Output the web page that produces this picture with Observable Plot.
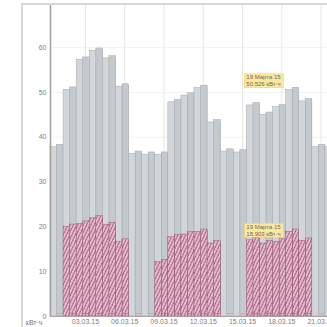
<!DOCTYPE html>
<html>
<head>
<meta charset="utf-8">
<script src="https://cdn.jsdelivr.net/npm/d3@7"></script>
<script src="https://cdn.jsdelivr.net/npm/@observablehq/plot@0.6"></script>
<style>
  html, body { margin: 0; padding: 0; background: #fff; overflow: hidden; width: 327px; height: 327px; }
  #wrap { position: relative; width: 327px; height: 327px; overflow: hidden; }
  #border { position: absolute; left: 21px; top: 3px; width: 420px; height: 420px; border: 2px solid #d8d8d8; box-sizing: border-box; }
  #chart { position: absolute; left: 0; top: 0; width: 338px; }
  #chart svg { max-width: none !important; }
</style>
</head>
<body>
<div id="wrap"><div id="border"></div><div id="chart"></div></div>
<script>
// Daily energy use, March 2015 (кВт·ч)
const days = [
  "01.03.15", "02.03.15", "03.03.15", "04.03.15", "05.03.15", "06.03.15", "07.03.15",
  "08.03.15", "09.03.15", "10.03.15", "11.03.15", "12.03.15", "13.03.15", "14.03.15",
  "15.03.15", "16.03.15", "17.03.15", "18.03.15", "19.03.15", "20.03.15", "21.03.15", "22.03.15"
];
const totalKwh = [
  37.8, 50.6, 57.3, 59.3, 57.6, 51.3, 36.3,
  36.1, 36.1, 47.8, 49.3, 51.0, 43.3, 36.8,
  36.6, 47.1, 45.0, 46.7, 50.526, 48.0, 37.8, 37.8
];
const partKwh = [
  null, 20.0, 20.7, 21.9, 20.4, 16.7, null,
  null, 12.1, 17.7, 18.3, 18.9, 16.3, null,
  null, 17.0, 16.3, 16.7, 18.903, 16.9, null, null
];
const tickDays = ["03.03.15", "06.03.15", "09.03.15", "12.03.15", "15.03.15", "18.03.15", "21.03.15"];
const yTicks = [0, 10, 20, 30, 40, 50, 60];
const unitLabel = "кВт·ч";
const tipDay = "19.03.15";
const tipDate = "19 Марта 15";

const rows = days.map((day, i) => ({ i, day, total: totalKwh[i], part: partKwh[i] }));
const partRows = rows.filter(d => d.part != null);
const tickOffset = 0.67;
const tickAt = tickDays.map(d => days.indexOf(d) + tickOffset);
const tipRow = rows.find(d => d.day === tipDay);
const depth = 2.3; // px lift of the column side faces

const greyFront = { fill: "#d2d6da", stroke: "#a3a9ae", strokeWidth: 0.5 };
const greySide = { fill: "#c4c9cd", stroke: "#a3a9ae", strokeWidth: 0.5 };
const hatched = { fill: "url(#hatch)", stroke: "#8f4a6c", strokeWidth: 0.4 };

const chart = Plot.plot({
  width: 338,
  height: 330,
  marginLeft: 50,
  marginRight: 0,
  marginTop: 5,
  marginBottom: 14,
  style: { fontFamily: "Liberation Sans, Arial, sans-serif", fontSize: "7px", color: "#808080", background: "transparent", overflow: "visible", maxWidth: "none" },
  x: { domain: [0, days.length], ticks: tickAt, tickFormat: v => tickDays[tickAt.indexOf(v)], tickSize: 0, tickPadding: 3, label: null },
  y: { domain: [0, 69.4], ticks: yTicks, tickSize: 0, tickPadding: 4, label: null, grid: true },
  marks: [
    Plot.ruleX(tickAt, { stroke: "#e6e6e6" }),
    // grey columns: side faces then front faces
    Plot.rectY(rows, { x1: d => d.i + 0.5, x2: d => d.i + 1, y: "total", ...greySide }),
    Plot.rectY(rows, { x1: d => d.i + 0.5, x2: d => d.i + 1, y: "total", ...greySide, dy: -depth }),
    Plot.rectY(rows, { x1: d => d.i, x2: d => d.i + 0.5, y: "total", ...greyFront }),
    // hatched columns in front
    Plot.rectY(partRows, { x1: d => d.i + 0.5, x2: d => d.i + 1, y: "part", ...hatched }),
    Plot.rectY(partRows, { x1: d => d.i + 0.5, x2: d => d.i + 1, y: "part", ...hatched, dy: -depth }),
    Plot.rectY(partRows, { x1: d => d.i, x2: d => d.i + 0.5, y: "part", ...hatched }),
    Plot.ruleY([0], { stroke: "#b0a0a8", strokeWidth: 1 }),
    Plot.ruleX([0], { stroke: "#a0a0a0", strokeWidth: 1.5 }),
    Plot.text([unitLabel], { frameAnchor: "bottom-left", text: d => d, textAnchor: "end", dx: -8, dy: 8, fill: "#777" }),
    // value callouts
    Plot.text([tipRow], { x: "i", y: "total", text: d => `${tipDate}\n${d.total.toFixed(3)} ${unitLabel}`, textAnchor: "end", lineAnchor: "middle", dx: -5.5, dy: -9.5, fontSize: 6, lineHeight: 1.15, fill: "#6a6a50" }),
    Plot.text([tipRow], { x: "i", y: "part", text: d => `${tipDate}\n${d.part.toFixed(3)} ${unitLabel}`, textAnchor: "end", lineAnchor: "middle", dx: -5.5, dy: -1.8, fontSize: 6, lineHeight: 1.15, fill: "#6a6a50" })
  ]
});

document.getElementById("chart").appendChild(chart);

// hatch pattern for the lower columns
const svg = d3.select(chart);
const pat = svg.insert("defs", ":first-child").append("pattern")
  .attr("id", "hatch").attr("patternUnits", "userSpaceOnUse")
  .attr("width", 3).attr("height", 3).attr("patternTransform", "rotate(25)");
pat.append("rect").attr("width", 3).attr("height", 3).attr("fill", "#e2b4c7");
pat.append("line").attr("x1", 0.5).attr("y1", 0).attr("x2", 0.5).attr("y2", 3).attr("stroke", "#96466e").attr("stroke-width", 0.8);
pat.append("line").attr("x1", 0.5).attr("y1", 1.5).attr("x2", 2.5).attr("y2", 1.5).attr("stroke", "#f1dbe5").attr("stroke-width", 0.5);

// yellow boxes behind the callout texts
svg.selectAll("text").filter(function () { return this.textContent.startsWith(tipDate); }).each(function () {
  const b = this.getBBox();
  const box = document.createElementNS("http://www.w3.org/2000/svg", "rect");
  box.setAttribute("x", b.x - 2);
  box.setAttribute("y", b.y - 0.5);
  box.setAttribute("width", b.width + 4);
  box.setAttribute("height", b.height + 1);
  box.setAttribute("fill", "#fde7a0");
  box.setAttribute("stroke", "#efcf74");
  box.setAttribute("stroke-width", 0.6);
  if (this.getAttribute("transform")) box.setAttribute("transform", this.getAttribute("transform"));
  this.parentNode.insertBefore(box, this);
});
</script>
</body>
</html>
